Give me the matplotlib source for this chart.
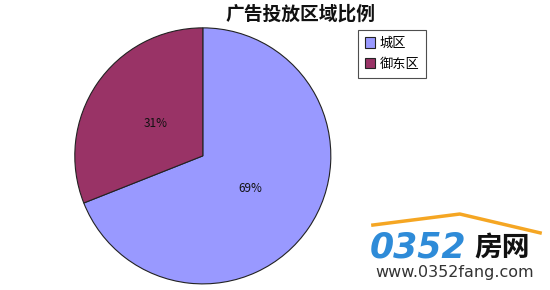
import matplotlib.pyplot as plt
from matplotlib.lines import Line2D

plt.rcParams['font.family'] = ['Noto Sans CJK SC', 'DejaVu Sans']

# 区域与比例
areas = ['城区', '御东区']
shares = [69, 31]
colors = ['#9999FF', '#993366']
title = '广告投放区域比例'

fig = plt.figure(figsize=(5.5, 2.9), dpi=100)
ax = fig.add_axes([0.136, 0.021, 0.4655, 0.883])

wedges, texts, autotexts = ax.pie(
    shares, colors=colors, startangle=90, counterclock=False,
    autopct='%d%%', pctdistance=0.45,
    wedgeprops=dict(edgecolor='#222222', linewidth=0.8),
    textprops=dict(fontsize=8.5, color='#111111'))
ax.set_xlim(-1.0, 1.0)
ax.set_ylim(-1.0, 1.0)
ax.set_aspect('equal')

fig.text(0.5455, 0.952, title, ha='center', va='center', fontsize=13.5,
         fontweight='bold', color='#111111')

leg = fig.legend(wedges, areas, loc='upper left', bbox_to_anchor=(0.651, 0.895),
                 frameon=True, fancybox=False, edgecolor='#222222',
                 fontsize=9.5, handlelength=0.8, handleheight=0.8,
                 handletextpad=0.35, borderpad=0.5, labelspacing=0.6,
                 borderaxespad=0)
leg.get_frame().set_linewidth(0.8)

# 水印
fig.add_artist(Line2D([0.678, 0.836, 0.982], [0.224, 0.262, 0.197],
                      color='#F5A623', linewidth=2.5))
fig.text(0.672, 0.148, '0352', fontsize=25, fontweight='bold', fontstyle='italic',
         color='#2E8BD8', va='center', ha='left', family='DejaVu Sans')
fig.text(0.862, 0.148, '房网', fontsize=20, fontweight='bold', color='#111111',
         va='center', ha='left')
fig.text(0.827, 0.062, 'www.0352fang.com', fontsize=11.5, color='#333333',
         va='center', ha='center', family='DejaVu Sans')

fig.savefig('out.png', dpi=100)
